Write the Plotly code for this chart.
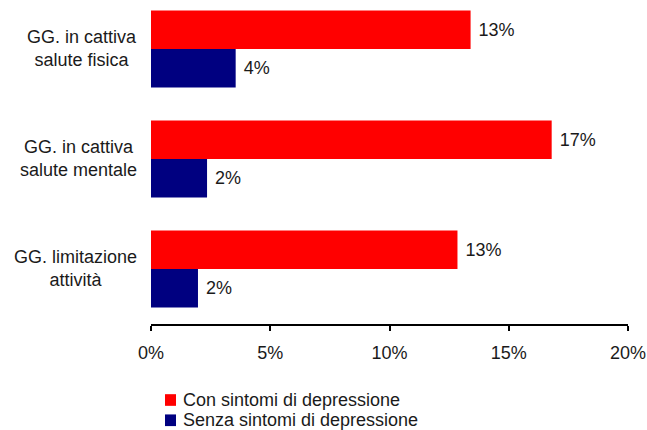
import plotly.graph_objects as go

categories = ["GG. in cattiva<br>salute fisica",
              "GG. in cattiva<br>salute mentale",
              "GG. limitazione<br>attività"]
con_sintomi = [13.4, 16.8, 12.85]
senza_sintomi = [3.55, 2.35, 1.97]
series_names = ["Con sintomi di depressione", "Senza sintomi di depressione"]
series_colors = ["#FF0000", "#000080"]
x_ticks = [0, 5, 10, 15, 20]
x_tick_labels = ["0%", "5%", "10%", "15%", "20%"]

FONT = "Liberation Sans, Arial, sans-serif"
TEXT_COLOR = "#1a1a1a"
FS = 18

fig = go.Figure()
for name, vals, color in zip(series_names, [con_sintomi, senza_sintomi], series_colors):
    fig.add_trace(go.Bar(
        y=categories, x=vals, name=name, orientation="h",
        marker=dict(color=color, line=dict(width=0)),
        texttemplate=" %{x:.0f}%",
        textposition="outside",
        textfont=dict(size=FS, color=TEXT_COLOR, family=FONT),
        cliponaxis=False,
        showlegend=False,
    ))

# category labels: block right-aligned to the axis, lines centred within it
for c in categories:
    fig.add_annotation(
        x=-0.0252, xref="paper", y=c, yref="y",
        text=c, showarrow=False, align="center",
        xanchor="right", yanchor="middle",
        font=dict(size=FS, color=TEXT_COLOR, family=FONT),
    )

# compact legend below the axis: swatch + label per series
for i, (name, color) in enumerate(zip(series_names, series_colors)):
    yc = -0.2346 - i * 0.0625
    fig.add_shape(
        type="rect", xref="paper", yref="paper",
        x0=0.0294, x1=0.0524, y0=yc - 0.018, y1=yc + 0.018,
        fillcolor=color, line=dict(width=0),
    )
    fig.add_annotation(
        x=0.063, xref="paper", y=yc, yref="paper",
        text=name, showarrow=False,
        xanchor="left", yanchor="middle",
        font=dict(size=FS, color=TEXT_COLOR, family=FONT),
    )

fig.update_layout(
    width=647, height=430,
    margin=dict(l=151, r=19, t=0, b=106),
    paper_bgcolor="white", plot_bgcolor="white",
    barmode="group", bargap=0.3, bargroupgap=0,
    font=dict(family=FONT, size=FS, color=TEXT_COLOR),
    showlegend=False,
    xaxis=dict(
        range=[0, 20], tickmode="array", tickvals=x_ticks, ticktext=x_tick_labels,
        showgrid=False, zeroline=False,
        showline=True, linecolor="black", linewidth=2,
        ticks="outside", ticklen=5, tickwidth=2, tickcolor="black",
        ticklabelstandoff=6,
        tickfont=dict(size=FS, color=TEXT_COLOR, family=FONT),
    ),
    yaxis=dict(
        range=[2.5, -0.445], showticklabels=False,
        showgrid=False, zeroline=False, showline=False, ticks="",
    ),
)

fig.write_html("out.html")
